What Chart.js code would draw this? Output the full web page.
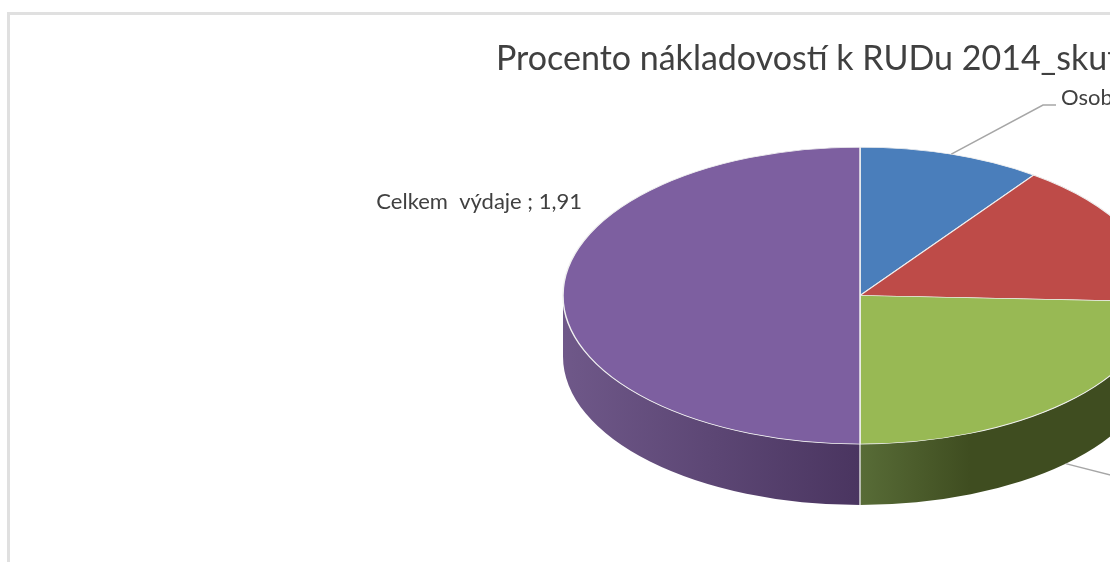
<!DOCTYPE html>
<html>
<head>
<meta charset="utf-8">
<title>Procento nákladovostí</title>
<script src="https://cdn.jsdelivr.net/npm/chart.js@4/dist/chart.umd.min.js"></script>
<style>
html, body { margin: 0; padding: 0; background: #fff; overflow: hidden; }
#crop { position: absolute; left: 0; top: 0; width: 1110px; height: 562px; overflow: hidden; }
#frame { position: absolute; left: 7px; top: 12px; width: 1103px; height: 550px; box-sizing: border-box;
    border-top: 3px solid #e0e0e0; border-left: 3px solid #e0e0e0; }
canvas { position: absolute; left: 0; top: 0; }
</style>
</head>
<body>
<div id="crop">
    <canvas id="pie" width="1224" height="800"></canvas>
    <div id="frame"></div>
</div>
<script>
var chartTitle = "Procento nákladovostí k RUDu 2014_skut";
// the reference is cut at the right edge, only these words can be read
var categories = ["Osob", "", "", "Celkem  výdaje"];
var valueLabels = ["", "", "", "1,91"];
var values = [0.38, 0.60, 0.93, 1.91];
var sliceColors = ["#4a7ebb", "#be4b48", "#98b954", "#7d5fa0"];

// pie geometry on the page
var centerX = 860, centerY = 295.5, squash = 0.5, wallDepth = 61;
var textColor = "#404040", leaderColor = "#a6a6a6";
var fontName = "Lato";

function wallGradient(ctx, index) {
    var g;
    if (index == 3) {
        g = ctx.createLinearGradient(563, 0, 860, 0);
        g.addColorStop(0, "#6f5889");
        g.addColorStop(1, "#4a3560");
    } else {
        g = ctx.createLinearGradient(860, 0, 970, 0);
        g.addColorStop(0, "#586c37");
        g.addColorStop(1, "#3f4d20");
    }
    return g;
}

function eachArc(list, fn) {
    for (var i = 0; i < list.length; i++) fn(list[i], i);
}

/*Side wall of the pie*/
function drawWall(chart) {
    var ctx = chart.ctx;
    var arcs = chart.getDatasetMeta(0).data;
    eachArc(arcs, function (arc, i) {
        var start = Math.max(arc.startAngle, 0);
        var end = Math.min(arc.endAngle, Math.PI);
        if (end <= start) return;
        var ry = arc.outerRadius * squash;
        ctx.beginPath();
        ctx.ellipse(centerX, centerY, arc.outerRadius, ry, 0, start, end);
        ctx.ellipse(centerX, centerY + wallDepth, arc.outerRadius, ry, 0, end, start, true);
        ctx.closePath();
        ctx.fillStyle = wallGradient(ctx, i);
        ctx.fill();
    });
    ctx.strokeStyle = "#d9d9d9";
    ctx.lineWidth = 1.5;
    ctx.beginPath();
    ctx.moveTo(centerX, centerY + arcs[0].outerRadius * squash);
    ctx.lineTo(centerX, centerY + arcs[0].outerRadius * squash + wallDepth);
    ctx.stroke();
}

/*Labels and leader lines*/
function drawLabels(chart) {
    var ctx = chart.ctx;
    var arcs = chart.getDatasetMeta(0).data;
    ctx.save();
    ctx.font = "22px " + fontName;
    ctx.fillStyle = textColor;
    ctx.textBaseline = "middle";
    ctx.strokeStyle = leaderColor;
    ctx.lineWidth = 1.5;

    // Osob
    var mid = (arcs[0].startAngle + arcs[0].endAngle) / 2;
    ctx.beginPath();
    ctx.moveTo(centerX + arcs[0].outerRadius * Math.cos(mid), centerY + arcs[0].outerRadius * squash * Math.sin(mid));
    ctx.lineTo(1043, 105);
    ctx.lineTo(1056, 105);
    ctx.stroke();
    ctx.textAlign = "left";
    ctx.fillText(categories[0], 1061, 98);

    // third slice, its label is outside the crop
    mid = (arcs[2].startAngle + arcs[2].endAngle) / 2;
    ctx.beginPath();
    ctx.moveTo(centerX + arcs[2].outerRadius * Math.cos(mid), centerY + arcs[2].outerRadius * squash * Math.sin(mid) + wallDepth);
    ctx.lineTo(1130, 480);
    ctx.stroke();

    // Celkem vydaje
    ctx.textAlign = "right";
    ctx.fillText(categories[3] + " ; " + valueLabels[3], 582, 202);
    ctx.restore();
}

var pie3d = {
    id: "pie3d",
    beforeDatasetsDraw: function (chart) {
        var ctx = chart.ctx;
        var arc = chart.getDatasetMeta(0).data[0];
        drawWall(chart);
        ctx.save();
        ctx.translate(centerX, centerY);
        ctx.scale(1, squash);
        ctx.translate(-arc.x, -arc.y);
    },
    afterDatasetsDraw: function (chart) {
        chart.ctx.restore();
        drawLabels(chart);
    }
};

var myChart = new Chart(document.getElementById("pie"), {
    type: 'pie',
    data: {
        labels: categories,
        datasets: [
            {
                data: values,
                backgroundColor: sliceColors,
                borderColor: "#f0f0f0",
                borderWidth: 1.5,
                hoverOffset: 0,
                radius: 297,
                clip: false
            }]
    },
    options: {
        responsive: false,
        animation: false,
        layout: { padding: { left: 496 } },
        plugins: {
            legend: { display: false },
            tooltip: { enabled: false },
            title: {
                display: true,
                text: chartTitle,
                align: 'start',
                color: textColor,
                font: { family: fontName, size: 34, weight: 'normal' },
                padding: { top: 39, bottom: 10 }
            }
        }
    },
    plugins: [pie3d]
});
</script>
</body>
</html>
